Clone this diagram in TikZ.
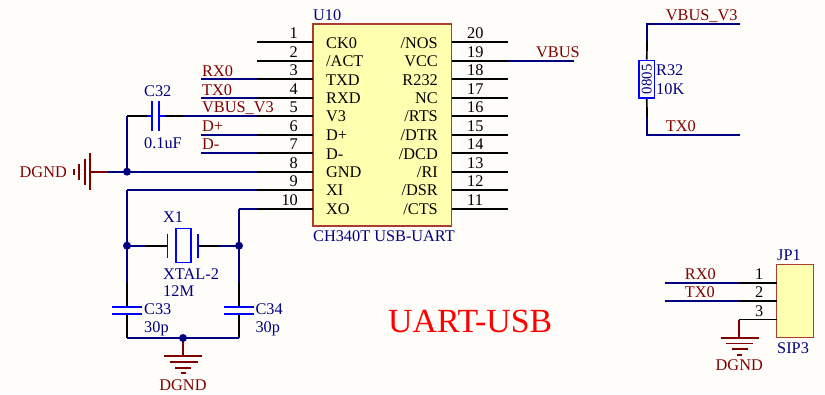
\documentclass[tikz,border=0pt]{standalone}
\usepackage{fontspec}
\setmainfont{Liberation Serif}
\usetikzlibrary{calc}
\definecolor{netred}{RGB}{128,0,0}
\definecolor{wirenavy}{RGB}{0,0,128}
\definecolor{partblue}{RGB}{0,0,255}
\definecolor{chipfill}{RGB}{255,255,176}
\definecolor{chipedge}{RGB}{170,60,50}
\definecolor{paperbg}{RGB}{255,253,249}
\tikzset{
	wire/.style={wirenavy,line width=1.7pt},
	pinline/.style={black,line width=1.7pt},
	part/.style={partblue,line width=1.7pt},
	power/.style={netred,line width=1.7pt},
	chipbox/.style={draw=chipedge,fill=chipfill,line width=1.4pt,inner sep=0pt},
	dot/.style={circle,fill=wirenavy,inner sep=0pt,minimum size=8pt},
	txt/.style={inner sep=0pt,anchor=base west,font=\fontsize{16.3}{17}\selectfont},
	txtr/.style={txt,anchor=base east},
	txtc/.style={txt,anchor=base},
	lab/.style={txt,text=wirenavy},
	net/.style={txt,text=netred},
}
\begin{document}
\begin{tikzpicture}[x=1pt,y=-1pt]
	\useasboundingbox[fill=paperbg] (0,0) rectangle (825,394);
	% chip and its pins
	\node[chipbox,minimum width=138.5pt,minimum height=202pt] (U10) at (382.25,125) {};
	\node[lab] (u10name) at (313,20.7) {U10};
	\node[lab] (u10type) at (313,241.7) {CH340T USB-UART};
	\foreach \n/\y/\s in {1/42.3/CK0,2/60.7/{/ACT},3/79.3/TXD,4/97.7/RXD,5/116/V3,6/134.7/D+,7/153.3/D-,8/171.7/GND,9/190/XI,10/208.7/XO}{
		\coordinate (pin\n) at (257,\y);
		\coordinate (pad\n) at (313,\y);
		\draw[pinline] (pin\n) -- (pad\n);
		\node[txtr] (num\n) at (298,\y-3.7) {\n};
		\node[txt] (sig\n) at (326,\y+5.7) {\s};
	}
	\foreach \n/\y/\s in {20/42.3/{/NOS},19/60.7/VCC,18/79.3/R232,17/97.7/NC,16/116/{/RTS},15/134.7/{/DTR},14/153.3/{/DCD},13/171.7/{/RI},12/190/{/DSR},11/208.7/{/CTS}}{
		\coordinate (pin\n) at (508,\y);
		\coordinate (pad\n) at (451.5,\y);
		\draw[pinline] (pad\n) -- (pin\n);
		\node[txt] (num\n) at (467,\y-3.7) {\n};
		\node[txtr] (sig\n) at (438,\y+5.7) {\s};
	}
	% nets on the chip
	\foreach \n/\s/\b in {3/RX0/76,4/TX0/95,5/VBUS\_V3/112.7,6/D+/131.7,7/D-/149.3}{
		\coordinate (end\n) at (201,{\b+3.4});
		\node[net] (name\n) at (202,\b) {\s};
	}
	\foreach \n in {3,4,6,7}
		\draw[wire] (end\n |- pin\n) -- (pin\n);
	\coordinate (vbusend) at (574,60.7);
	\draw[wire] (pin19) -- (vbusend);
	\node[net] (vbusname) at (536,57.3) {VBUS};
	% C32
	\coordinate (c32a) at (152,116);
	\coordinate (c32b) at (159,116);
	\coordinate (c32in) at (147,116);
	\coordinate (c32out) at (165,116);
	\coordinate (c32wire) at (183,116);
	\coordinate (leftcorner) at (127,116);
	\coordinate (leftjoin) at (127,171.7);
	\draw[wire] (c32wire) -- (pin5);
	\draw[wire] (leftcorner) -- (leftjoin);
	\draw[pinline] (leftcorner) -- (c32in);
	\draw[part] (c32in) -- (c32a);
	\draw[pinline] (c32out) -- (c32wire);
	\draw[part] (c32b) -- (c32out);
	\draw[part] ($(c32a)+(0,-15)$) -- ($(c32a)+(0,15)$);
	\draw[part] ($(c32b)+(0,-15)$) -- ($(c32b)+(0,15)$);
	\node[lab] (c32name) at (144,96) {C32};
	\node[lab] (c32val) at (144,148.3) {0.1uF};
	% DGND left
	\coordinate (gndl) at (90,171.7);
	\coordinate (gndw) at (108,171.7);
	\draw[wire] (gndw) -- (pin8);
	\draw[power] (gndl) -- (gndw);
	\draw[power] (90,153) -- (90,190);
	\draw[power] (84.7,158.5) -- (84.7,185);
	\draw[power] (79,164) -- (79,179.5);
	\draw[power] (73.7,169) -- (73.7,174.5);
	\node[dot] (j1) at (leftjoin) {};
	\node[net,anchor=base east] (gndname1) at (67,177.3) {DGND};
	% crystal
	\coordinate (xl) at (127,245.7);
	\coordinate (xr) at (239,245.7);
	\coordinate (xlin) at (146,245.7);
	\coordinate (xlp) at (167.5,245.7);
	\coordinate (xrp) at (198.3,245.7);
	\coordinate (xrin) at (220,245.7);
	\coordinate (xi) at (127,190);
	\coordinate (xo) at (239,208.7);
	\draw[wire] (xi) -- (pin9);
	\draw[wire] (xo) -- (pin10);
	\draw[wire] (xl) -- (xlin);
	\draw[pinline] (xlin) -- (xlp);
	\draw[pinline] (xrp) -- (xrin);
	\draw[wire] (xrin) -- (xr);
	\draw[part] ($(xlp)+(0,-12)$) -- ($(xlp)+(0,12)$);
	\draw[part] ($(xrp)+(0,-12)$) -- ($(xrp)+(0,12)$);
	\node[draw=partblue,line width=1.7pt,fill=paperbg,minimum width=15pt,minimum height=34pt,inner sep=0pt] (X1) at (183.2,245.5) {};
	\node[lab] (x1name) at (163,222.7) {X1};
	\node[lab] (x1type) at (163,279.3) {XTAL-2};
	\node[lab] (x1val) at (163,296.7) {12M};
	% C33, C34
	\coordinate (c33a) at (127,283);
	\coordinate (c33t) at (127,306.7);
	\coordinate (c33b) at (127,314);
	\coordinate (c33z) at (127,338);
	\coordinate (c34a) at (239,283);
	\coordinate (c34t) at (239,306.7);
	\coordinate (c34b) at (239,314);
	\coordinate (c34z) at (239,338);
	\coordinate (gndb) at (183,338);
	\draw[wire] (xi) -- (c33a);
	\draw[wire] (xo) -- (c34a);
	\draw[pinline] (c33a) -- (c33t);
	\draw[pinline] (c34a) -- (c34t);
	\draw[pinline] (c33b) -- (c33z);
	\draw[pinline] (c34b) -- (c34z);
	\draw[wire] (c33z) -- (c34z);
	\draw[part] ($(c33t)+(-15,0)$) -- ($(c33t)+(15,0)$);
	\draw[part] ($(c33b)+(-15,0)$) -- ($(c33b)+(15,0)$);
	\draw[part] ($(c34t)+(-15,0)$) -- ($(c34t)+(15,0)$);
	\draw[part] ($(c34b)+(-15,0)$) -- ($(c34b)+(15,0)$);
	\node[lab] (c33name) at (144,314) {C33};
	\node[lab] (c33val) at (144,332.7) {30p};
	\node[lab] (c34name) at (255.3,314) {C34};
	\node[lab] (c34val) at (255.3,332.7) {30p};
	% DGND bottom
	\coordinate (gndbz) at (183,355.7);
	\draw[power] (gndb) -- (gndbz);
	\draw[power] (164,355.7) -- (202,355.7);
	\draw[power] (169.5,362) -- (197.5,362);
	\draw[power] (175,367.7) -- (191,367.7);
	\draw[power] (180.5,373.3) -- (185.5,373.3);
	\node[dot] (j2) at (xl) {};
	\node[dot] (j3) at (xr) {};
	\node[dot] (j4) at (gndb) {};
	\node[net,anchor=base] (gndname2) at (183,390) {DGND};
	% R32
	\node[draw=partblue,line width=1.7pt,minimum width=15.5pt,minimum height=37.5pt,inner sep=0pt] (R32) at (646.8,79.2) {};
	\node[rotate=90,inner sep=0pt,text=wirenavy,font=\fontsize{14.8}{15}\selectfont] (r32code) at (R32) {0805};
	\coordinate (rtop) at (647,24);
	\coordinate (rtopend) at (740,24);
	\coordinate (rbot) at (647,135);
	\coordinate (rbotend) at (740,135);
	\coordinate (rwa) at (647,41);
	\coordinate (rwb) at (647,117);
	\draw[wire] (rtopend) -- (rtop) -- (rwa);
	\draw[pinline] (rwa) -- (R32.north);
	\draw[pinline] (R32.south) -- (rwb);
	\draw[wire] (rwb) -- (rbot) -- (rbotend);
	\node[net] (rnet1) at (665.7,20) {VBUS\_V3};
	\node[net] (rnet2) at (665.7,131) {TX0};
	\node[lab] (r32name) at (656,75) {R32};
	\node[lab] (r32val) at (656,94.3) {10K};
	% JP1
	\node[chipbox,minimum width=36.6pt,minimum height=73.4pt] (JP1) at (795,301) {};
	\node[lab] (jp1name) at (777,260) {JP1};
	\node[lab] (jp1type) at (777,353) {SIP3};
	\foreach \n/\y/\b/\s in {1/282.7/279/RX0,2/301/297.3/TX0}{
		\coordinate (jstart\n) at (665,\y);
		\coordinate (jmid\n) at (740,\y);
		\coordinate (jpad\n) at (777,\y);
		\draw[wire] (jstart\n) -- (jmid\n);
		\draw[pinline] (jmid\n) -- (jpad\n);
		\node[txt] (jnum\n) at (755,\b) {\n};
		\node[net] (jnet\n) at (684.7,\b) {\s};
	}
	\node[txt] (jnum3) at (755,316.7) {3};
	\coordinate (jpad3) at (777,319.5);
	\coordinate (jmid3) at (739,319.5);
	\coordinate (jgnd) at (739,338);
	\draw[pinline] (jpad3) -- (jmid3);
	\draw[power] (jmid3) -- (jgnd);
	\draw[power] (720.7,338) -- (758.7,338);
	\draw[power] (726,343.5) -- (753,343.5);
	\draw[power] (731.7,349.3) -- (747.7,349.3);
	\draw[power] (737,355) -- (742,355);
	\node[net,anchor=base east] (gndname3) at (763,370.7) {DGND};
	% title
	\node[net,text=red,font=\fontsize{33.8}{36}\selectfont] (title) at (388,332) {UART-USB};
\end{tikzpicture}
\end{document}
